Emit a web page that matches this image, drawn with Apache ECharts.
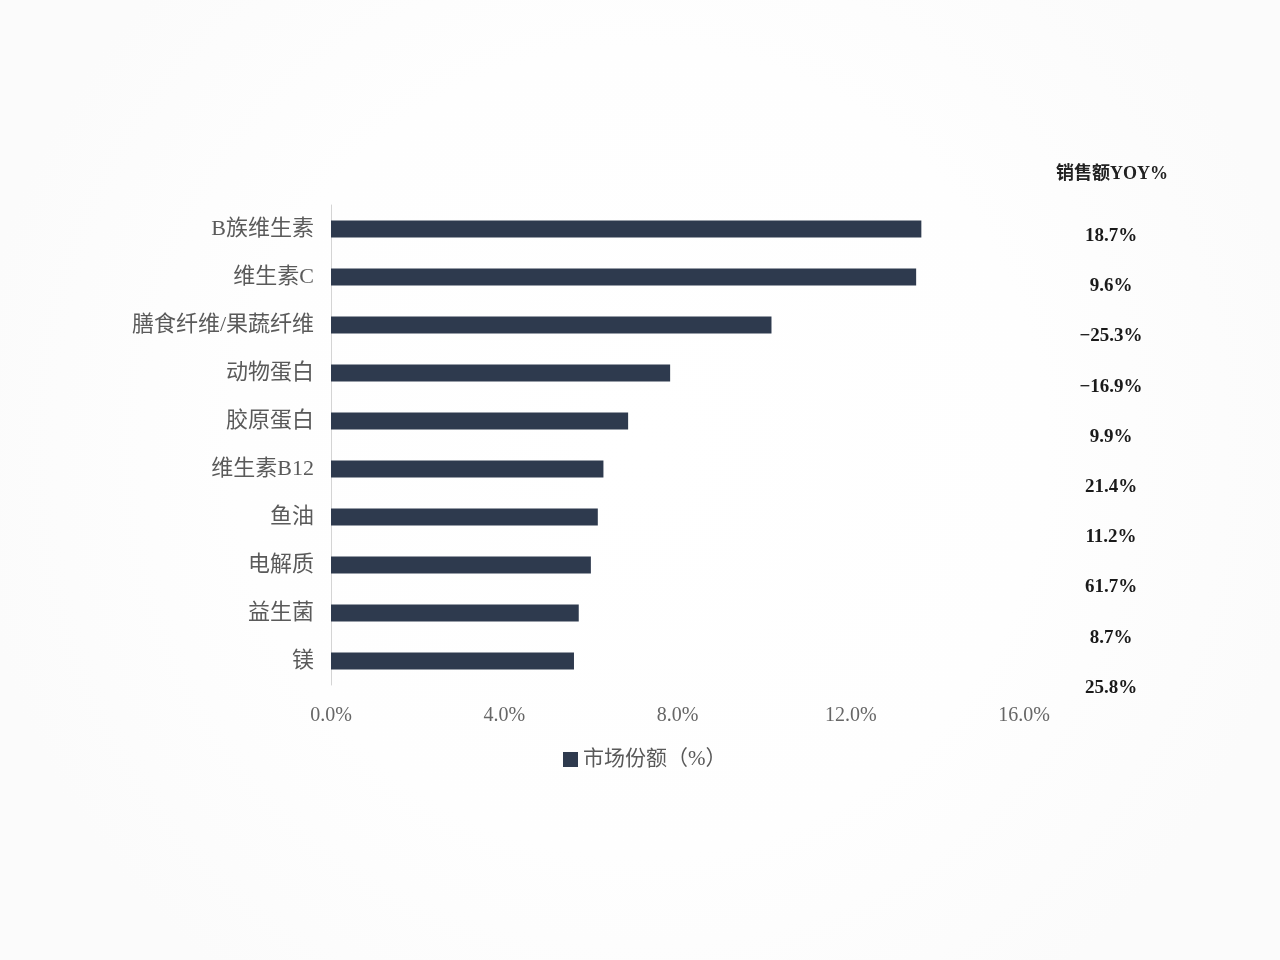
<!DOCTYPE html>
<html>
<head>
<meta charset="utf-8">
<script src="https://cdn.jsdelivr.net/npm/echarts@6/dist/echarts.min.js"></script>
<style>
html,body{margin:0;padding:0;background:#fdfdfd;}
#main{width:1280px;height:960px;}
</style>
</head>
<body>
<div id="main"></div>
<script>
var categories = ['B族维生素','维生素C','膳食纤维/果蔬纤维','动物蛋白','胶原蛋白','维生素B12','鱼油','电解质','益生菌','镁'];
var marketShare = [13.63, 13.51, 10.17, 7.83, 6.86, 6.29, 6.16, 6.00, 5.72, 5.61];
var yoy = [18.7, 9.6, -25.3, -16.9, 9.9, 21.4, 11.2, 61.7, 8.7, 25.8];
var xTicks = [0, 4, 8, 12, 16];
var seriesName = '市场份额（%）';
var yoyTitle = '销售额YOY%';

var yoyLabels = yoy.map(function(v){ return (v < 0 ? '\u2212' : '') + Math.abs(v).toFixed(1) + '%'; });

var latinSerif = '"Liberation Serif","DejaVu Serif","Noto Sans CJK SC",serif';
var chart = echarts.init(document.getElementById('main'));
chart.setOption({
  backgroundColor: {
    type: 'radial', x: 0.5, y: 0.47, r: 0.7,
    colorStops: [{offset: 0, color: '#ffffff'}, {offset: 0.6, color: '#fefefe'}, {offset: 1, color: '#fbfbfb'}]
  },
  animation: false,
  graphic: [{
    type: 'text', left: 1056, top: 165,
    style: { text: yoyTitle, font: 'bold 18px ' + latinSerif, fill: '#222222' }
  }],
  legend: {
    data: [seriesName], left: 558, top: 744,
    icon: 'rect', itemWidth: 15, itemHeight: 15, itemGap: 11,
    textStyle: { fontSize: 21, color: '#595959', fontFamily: latinSerif }
  },
  grid: [
    { left: 331, right: 256, top: 205, bottom: 275, containLabel: false },
    { left: 1111, width: 10, top: 211, height: 502, containLabel: false }
  ],
  xAxis: [{
    type: 'value', gridIndex: 0, min: xTicks[0], max: xTicks[xTicks.length-1], interval: 4,
    axisLine: { show: false }, axisTick: { show: false }, splitLine: { show: false },
    axisLabel: { margin: 21, fontSize: 20, color: '#666666', fontFamily: latinSerif,
      formatter: function(v){ return v.toFixed(1) + '%'; } }
  }, {
    type: 'value', gridIndex: 1, show: false, min: 0, max: 1
  }],
  yAxis: [{
    type: 'category', gridIndex: 0, data: categories, inverse: true,
    axisLine: { show: true, lineStyle: { color: '#d4d4d4', width: 1 } },
    axisTick: { show: false },
    axisLabel: { margin: 17, fontSize: 22, color: '#5a5a5a', fontFamily: latinSerif }
  }, {
    type: 'category', gridIndex: 1, data: yoyLabels, inverse: true,
    axisLine: { show: false }, axisTick: { show: false },
    axisLabel: { margin: 0, align: 'center', fontSize: 19, fontWeight: 'bold', color: '#1a1a1a', fontFamily: latinSerif }
  }],
  series: [{
    name: seriesName, type: 'bar', xAxisIndex: 0, yAxisIndex: 0,
    data: marketShare, barWidth: 17,
    itemStyle: { color: '#2e3a4e' }
  }]
});
</script>
</body>
</html>
